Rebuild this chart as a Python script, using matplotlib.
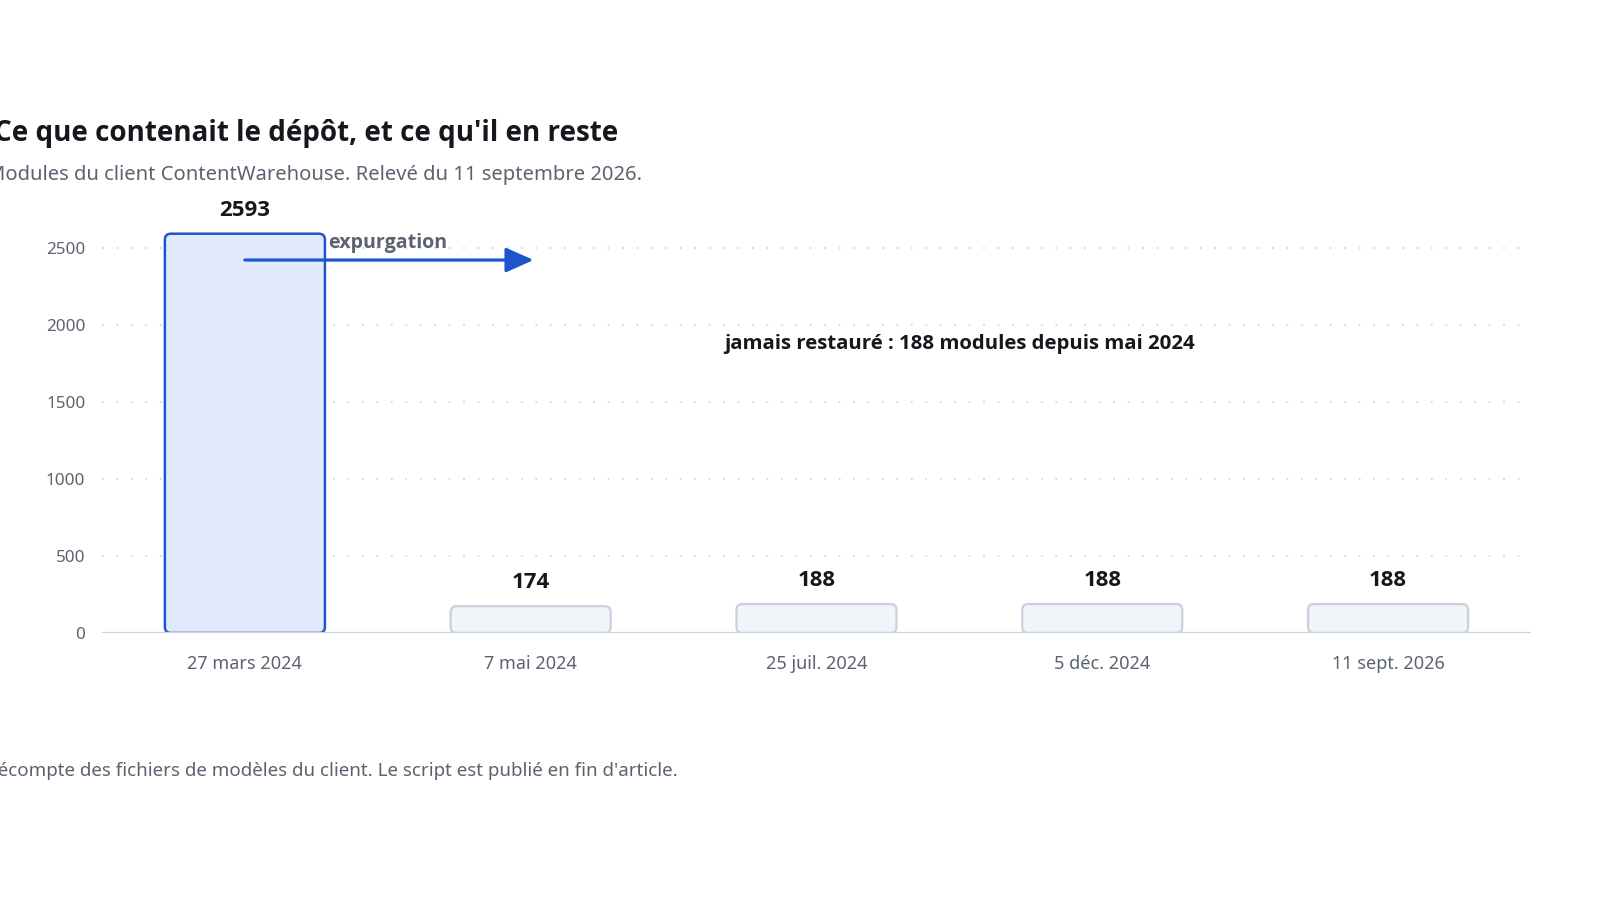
import matplotlib
matplotlib.use("Agg")
import matplotlib.pyplot as plt
from matplotlib import font_manager
from matplotlib.patches import FancyBboxPatch, FancyArrowPatch

TITLE = "Ce que contenait le dépôt, et ce qu'il en reste"
SUBTITLE = "Modules du client ContentWarehouse. Relevé du 11 septembre 2026."
FOOTER = "Décompte des fichiers de modèles du client. Le script est publié en fin d'article."

DATES = ["27 mars 2024", "7 mai 2024", "25 juil. 2024", "5 déc. 2024", "11 sept. 2026"]
MODULES = [2593, 174, 188, 188, 188]
Y_TICKS = [0, 500, 1000, 1500, 2000, 2500]

ARROW_LABEL = "expurgation"
NOTE = "jamais restauré : 188 modules depuis mai 2024"

BLUE = "#1f55cc"
BLUE_FILL = "#e1eafc"
GREY_FILL = "#f1f4f9"
GREY_EDGE = "#c9d1dc"
TEXT_DARK = "#15171c"
TEXT_GREY = "#5b6270"


def pick_bold_family():
    # first candidate that actually ships a bold face
    for fam in ["Noto Sans", "Open Sans", "Lato", "Inter", "Roboto", "Liberation Sans"]:
        for f in font_manager.fontManager.ttflist:
            w = f.weight if isinstance(f.weight, int) else 700 if "bold" in str(f.weight) else 400
            if f.name == fam and w >= 600 and f.style == "normal":
                return fam
    return "DejaVu Sans"


REGULAR = ["Noto Sans", "DejaVu Sans"]
BOLD = [pick_bold_family(), "DejaVu Sans"]
plt.rcParams["font.family"] = REGULAR


def rounded_bars(ax, bars, px_x, px_y, radius_px=6):
    # swap the square bars for rounded ones, same geometry
    for i, b in enumerate(bars):
        first = i == 0
        patch = FancyBboxPatch(
            (b.get_x(), b.get_y()), b.get_width(), b.get_height(),
            boxstyle=f"round,pad=0,rounding_size={radius_px / px_x}",
            mutation_aspect=(radius_px / px_y) / (radius_px / px_x),
            facecolor=BLUE_FILL if first else GREY_FILL,
            edgecolor=BLUE if first else GREY_EDGE,
            linewidth=1.8 if first else 1.6,
            zorder=3,
        )
        ax.add_patch(patch)
        b.set_visible(False)


def main():
    fig = plt.figure(figsize=(16, 9), dpi=100)
    ax = fig.add_axes([0.06375, 0.2967, 0.8931, 0.4811])

    x = list(range(len(DATES)))
    ax.set_xlim(-0.5, len(DATES) - 0.5)
    ax.set_ylim(0, 2812)

    bars = ax.bar(x, MODULES, width=0.56)
    px_x = 1429 / len(DATES)
    px_y = 433 / 2812
    rounded_bars(ax, bars, px_x, px_y)

    for xi, v in zip(x, MODULES):
        ax.annotate(str(v), (xi, v), xytext=(0, 17), textcoords="offset points",
                    ha="center", va="center", fontsize=16, fontweight="bold",
                    family=BOLD, color=TEXT_DARK, zorder=5)

    # grid
    ax.set_yticks(Y_TICKS)
    for t in Y_TICKS[1:]:
        ax.axhline(t, color="#d3d8df", linewidth=1.3, linestyle=(0, (1, 7)), zorder=1)
    ax.axhline(0, color=GREY_EDGE, linewidth=1.6, zorder=4)

    for s in ax.spines.values():
        s.set_visible(False)
    ax.set_xticks(x)
    ax.set_xticklabels(DATES)
    ax.tick_params(axis="x", length=0, pad=16, labelsize=13, labelcolor=TEXT_GREY)
    ax.tick_params(axis="y", length=0, pad=12, labelsize=12.3, labelcolor=TEXT_GREY)

    # expurgation arrow from first to second bar
    arrow = FancyArrowPatch((x[0], 2422), (x[1] + 0.01, 2422),
                            arrowstyle="-|>,head_length=0.85,head_width=0.38",
                            mutation_scale=20, color=BLUE, linewidth=2.3,
                            shrinkA=0, shrinkB=0, zorder=6)
    ax.add_patch(arrow)
    ax.text(0.292, 2535, ARROW_LABEL, ha="left", va="center", fontsize=14.1,
            fontweight="bold", family=BOLD, color=TEXT_GREY, zorder=6)

    ax.text(2.5, 1876, NOTE, ha="center", va="center", fontsize=14.7,
            fontweight="bold", family=BOLD, color=TEXT_DARK, zorder=6)

    fig.text(618 / 1600, 1 - 133 / 900, TITLE, ha="right", va="center",
             fontsize=20, fontweight="bold", family=BOLD, color=TEXT_DARK)
    fig.text(642 / 1600, 1 - 175 / 900, SUBTITLE, ha="right", va="center",
             fontsize=14.5, color=TEXT_GREY)
    fig.text(678 / 1600, 1 - 771 / 900, FOOTER, ha="right", va="center",
             fontsize=13.5, color=TEXT_GREY)

    fig.savefig("out.png", dpi=100, facecolor="white")


if __name__ == "__main__":
    main()
